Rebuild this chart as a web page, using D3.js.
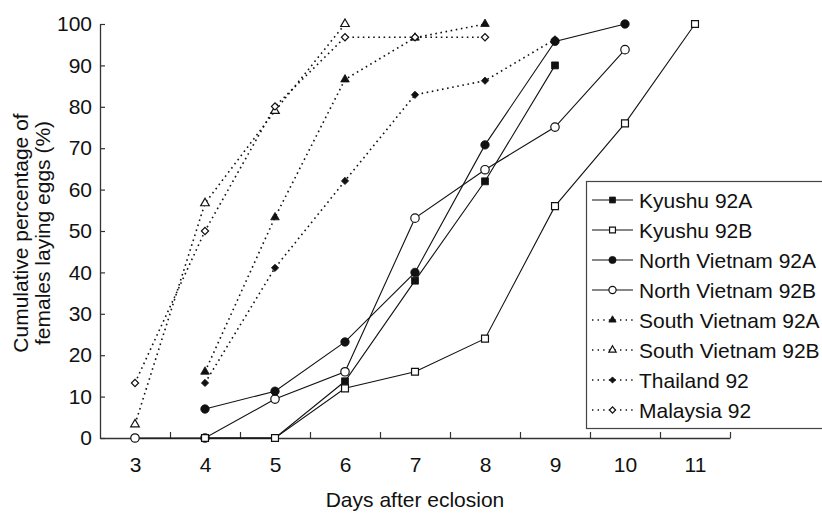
<!DOCTYPE html>
<html>
<head>
<meta charset="utf-8">
<script src="https://cdn.jsdelivr.net/npm/d3@7"></script>
<style>
    body { margin: 0; background: #fff; }
    svg { font-family: "Liberation Sans", Arial, sans-serif; }
</style>
</head>
<body>
<div class="chart"></div>
<script>
// days after eclosion, values are cumulative % of females laying eggs
const days = [3, 4, 5, 6, 7, 8, 9, 10, 11];
const yTicks = [0, 10, 20, 30, 40, 50, 60, 70, 80, 90, 100];

const kyushu92A = [null, 0, 0, 13.7, 38, 62, 90, null, null];
const kyushu92B = [null, 0, 0, 12, 16, 24, 56, 76, 100];
const northVietnam92A = [null, 7, 11.3, 23.2, 40, 70.8, 95.8, 100, null];
const northVietnam92B = [0, 0, 9.4, 16, 53.1, 64.8, 75.1, 93.8, null];
const southVietnam92A = [null, 16, 53.3, 86.6, 96.7, 100, null, null, null];
const southVietnam92B = [3.3, 56.7, 79, 100, null, null, null, null, null];
const thailand92 = [null, 13.3, 41.1, 62.1, 82.9, 86.3, 96.3, null, null];
const malaysia92 = [13.3, 50, 80.1, 96.8, 96.8, 96.8, null, null, null];

const seriesNames = ["Kyushu 92A", "Kyushu 92B", "North Vietnam 92A", "North Vietnam 92B",
    "South Vietnam 92A", "South Vietnam 92B", "Thailand 92", "Malaysia 92"];

let series = [
    {name: seriesNames[0], values: kyushu92A, shape: "square", filled: true, dotted: false},
    {name: seriesNames[1], values: kyushu92B, shape: "square", filled: false, dotted: false},
    {name: seriesNames[2], values: northVietnam92A, shape: "circle", filled: true, dotted: false},
    {name: seriesNames[3], values: northVietnam92B, shape: "circle", filled: false, dotted: false},
    {name: seriesNames[4], values: southVietnam92A, shape: "triangle", filled: true, dotted: true},
    {name: seriesNames[5], values: southVietnam92B, shape: "triangle", filled: false, dotted: true},
    {name: seriesNames[6], values: thailand92, shape: "diamond", filled: true, dotted: true},
    {name: seriesNames[7], values: malaysia92, shape: "diamond", filled: false, dotted: true}
];

// drawing order: dotted ones first, solid on top
let drawOrder = [series[4], series[5], series[6], series[7], series[3], series[0], series[1], series[2]];

let fontSize = 21;

let svg = d3.select(".chart")
    .append("svg")
    .attr("width", 822)
    .attr("height", 513);

let x = d3.scaleLinear()
    .domain([2.5, 11.5])
    .range([100, 730]);

let y = d3.scaleLinear()
    .domain([0, 100])
    .range([438, 24]);

let axisColor = "#333";

// x axis: ticks between the days, labels under the days
let xAxis = svg.append("g")
    .attr("transform", "translate(0," + y(0) + ")")
    .call(d3.axisBottom(x)
        .tickValues(days.map(d => d + 0.5))
        .tickSizeInner(-6)
        .tickSizeOuter(0)
        .tickFormat(""));
xAxis.select(".domain").attr("stroke", axisColor).attr("stroke-width", 1.3);
xAxis.selectAll(".tick line").attr("stroke", axisColor).attr("stroke-width", 1.2);

let xLabels = svg.append("g")
    .attr("transform", "translate(0," + y(0) + ")")
    .call(d3.axisBottom(x).tickValues(days).tickSize(0).tickPadding(19).tickFormat(d3.format("d")));
xLabels.select(".domain").remove();
xLabels.selectAll("text").attr("font-size", fontSize).attr("fill", "#111").style("font-family", "Liberation Sans, Arial, sans-serif");

let yAxis = svg.append("g")
    .attr("transform", "translate(" + x(2.5) + ",0)")
    .call(d3.axisLeft(y)
        .tickValues(yTicks)
        .tickSizeInner(-5)
        .tickSizeOuter(0)
        .tickPadding(8));
yAxis.select(".domain").attr("stroke", axisColor).attr("stroke-width", 1.3);
yAxis.selectAll(".tick line").attr("stroke", axisColor).attr("stroke-width", 1.2);
yAxis.selectAll("text").attr("font-size", fontSize).attr("fill", "#111").style("font-family", "Liberation Sans, Arial, sans-serif");

// axis titles
svg.append("text")
    .attr("x", 415)
    .attr("y", 507)
    .attr("text-anchor", "middle")
    .attr("font-size", fontSize)
    .attr("fill", "#111")
    .text("Days after eclosion");

let yTitle = svg.append("text")
    .attr("transform", "translate(0,233) rotate(-90)")
    .attr("text-anchor", "middle")
    .attr("font-size", fontSize)
    .attr("fill", "#111");
yTitle.append("tspan").attr("x", 0).attr("y", 28).text("Cumulative percentage of");
yTitle.append("tspan").attr("x", 0).attr("y", 50).text("females laying eggs (%)");

function symbolPath(shape, scale) {
    let types = {square: d3.symbolSquare, circle: d3.symbolCircle, triangle: d3.symbolTriangle, diamond: d3.symbolSquare};
    let sizes = {square: 48, circle: 56, triangle: 32, diamond: 26};
    return d3.symbol().type(types[shape]).size(sizes[shape] * scale * scale)();
}

function styleMarker(sel, s) {
    sel.attr("d", symbolPath(s.shape, 1))
        .attr("fill", s.filled ? "#111" : "#fff")
        .attr("stroke", "#111")
        .attr("stroke-width", s.filled ? 0.8 : 1.2);
}

let line = d3.line()
    .defined(d => d.v != null)
    .x(d => x(d.day))
    .y(d => y(d.v));

drawOrder.forEach(s => {
    let pts = days.map((day, i) => ({day: day, v: s.values[i]}));
    let g = svg.append("g");
    g.append("path")
        .datum(pts)
        .attr("d", line)
        .attr("fill", "none")
        .attr("stroke", "#111")
        .attr("stroke-width", s.dotted ? 1.6 : 1.1)
        .attr("stroke-dasharray", s.dotted ? "1.6,3.6" : null);
    g.selectAll("path.marker")
        .data(pts.filter(d => d.v != null))
        .enter()
        .append("path")
        .attr("class", "marker")
        .attr("transform", d => "translate(" + x(d.day) + "," + y(d.v) + ")" + (s.shape == "diamond" ? " rotate(45)" : ""))
        .call(sel => styleMarker(sel, s));
});

// legend
let legend = svg.append("g");
legend.append("rect")
    .attr("x", 586.5)
    .attr("y", 181.5)
    .attr("width", 260)
    .attr("height", 247)
    .attr("fill", "#fff")
    .attr("stroke", "#444")
    .attr("stroke-width", 1.2);

series.forEach((s, i) => {
    let cy = 200 + i * 30;
    legend.append("line")
        .attr("x1", 592)
        .attr("x2", 633)
        .attr("y1", cy)
        .attr("y2", cy)
        .attr("stroke", "#111")
        .attr("stroke-width", s.dotted ? 1.4 : 1.1)
        .attr("stroke-dasharray", s.dotted ? "1.4,4.2" : null);
    legend.append("path")
        .attr("transform", "translate(612.5," + cy + ")" + (s.shape == "diamond" ? " rotate(45)" : ""))
        .call(sel => styleMarker(sel, s))
        .attr("d", symbolPath(s.shape, 0.85));
    legend.append("text")
        .attr("x", 639)
        .attr("y", cy + 7.5)
        .attr("font-size", fontSize)
        .attr("fill", "#111")
        .text(s.name);
});
</script>
</body>
</html>
